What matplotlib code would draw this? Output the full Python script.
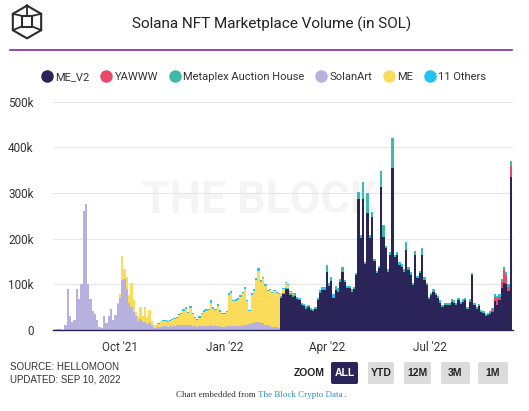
import numpy as np
import matplotlib
matplotlib.use('Agg')
import matplotlib.pyplot as plt
from matplotlib.patches import FancyBboxPatch
from matplotlib.lines import Line2D

plt.rcParams['font.family'] = ['Roboto', 'DejaVu Sans']

# data: 2-day bins from 2021-08-04 to 2022-09-10, values in thousands of SOL
start = np.datetime64('2021-08-04')
n_bins = 202

solanart = [1, 2, 3, 2, 0, 11, 90, 30, 18, 22,
            89, 68, 100, 260, 275, 101, 67, 42, 35, 22,
            6, 4, 30, 15, 30, 46, 22, 33, 58, 70,
            110, 111, 90, 60, 50, 40, 30, 20, 25, 18,
            18, 14, 15, 10, 5, 5, 6, 7, 8, 8,
            7, 8, 9, 9, 10, 11, 10, 11, 12, 10,
            11, 9, 8, 7, 8, 9, 9, 8, 9, 10,
            9, 8, 9, 8, 7, 7, 8, 9, 8, 8,
            9, 8, 9, 10, 11, 12, 14, 15, 16, 17,
            18, 16, 15, 12, 10, 8, 7, 6, 6, 5]

# ME from bin 28 to bin 105
me = [2, 8, 53, 22, 25, 16, 54, 25, 10, 10, 25, 12, 32, 14, 29, 10,
      6, 6, 8, 12, 12, 11, 11, 12, 13, 14,
      16, 21, 24, 30, 33, 27, 37, 26, 19, 14,
      19, 25, 31, 34, 34, 50, 38, 36, 43, 32,
      27, 27, 31, 68, 74, 55, 55, 58, 63, 70,
      79, 51, 28, 62, 70, 92, 111, 90, 98, 85,
      75, 79, 73, 79, 75, 74,
      6, 8, 10, 6, 4, 3]

# 11 Others from bin 46 to bin 201
others = [1, 1, 2, 3, 2, 2, 2, 3, 3, 3, 4, 4, 5, 3, 5,
          3, 2, 3, 3, 4, 4, 3, 3, 5,
          3, 3, 4, 4, 3, 3, 3, 5, 4, 3,
          3, 3, 4, 4, 5, 3, 2, 3, 4, 4,
          6, 4, 4, 3, 3, 3, 4, 3, 3, 3,
          2, 2, 2, 2, 2, 2, 2, 2, 2, 2,
          2, 2, 2, 2, 2, 2, 2, 5, 5, 5,
          5, 5, 5, 5, 5, 5, 2, 2, 2, 2,
          2, 2, 2, 2, 2, 2, 2, 2, 2, 2,
          2, 2, 2, 2, 2, 2, 2, 2, 2, 2,
          2, 2, 2, 2, 2, 2, 2, 2, 2, 2,
          2, 2, 2, 2, 2, 2, 2, 2, 2, 2,
          2, 2, 2, 2, 2, 2, 2, 2, 2, 2,
          2, 2, 2, 2, 2, 2, 2, 2, 2, 2,
          2, 2, 2, 2, 2, 2, 2, 2, 2, 2,
          2, 2]

# Metaplex Auction House from bin 100 to bin 201
metaplex = [3, 3, 3, 3, 3, 3, 3, 3, 3, 3,
            3, 3, 3, 3, 3, 3, 3, 3, 3, 3,
            10, 3, 3, 3, 3, 3, 3, 8, 3, 3,
            3, 3, 3, 3, 13, 3, 35, 3, 41, 3,
            10, 3, 3, 3, 33, 25, 3, 3, 3, 65,
            3, 3, 3, 3, 3, 15, 3, 3, 3, 8,
            3, 3, 12, 3, 3, 3, 3, 3, 3, 3,
            3, 3, 3, 3, 3, 3, 3, 3, 3, 3,
            3, 3, 3, 3, 2, 3, 3, 3, 3, 3,
            3, 3, 3, 3, 3, 3, 3, 3, 3, 3,
            3, 8]

# ME_V2 from bin 100 to bin 201
me_v2 = [71, 79, 90, 89, 77, 73, 75, 67, 65, 55,
         53, 47, 50, 43, 41, 45, 65, 80, 87, 87,
         127, 96, 107, 70, 88, 84, 106, 127, 105, 91,
         91, 84, 90, 120, 287, 202, 287, 145, 257, 202,
         247, 151, 125, 135, 313, 203, 180, 128, 165, 354,
         160, 165, 143, 139, 128, 176, 132, 121, 99, 164,
         114, 125, 165, 110, 99, 67, 76, 84, 76, 70,
         60, 50, 54, 55, 54, 62, 60, 54, 65, 56,
         62, 65, 45, 62, 120, 54, 45, 53, 39, 37,
         30, 32, 35, 40, 63, 55, 65, 91, 104, 101,
         85, 335]

# YAWWW from bin 192 to bin 201
yawww = [2, 3, 10, 14, 8, 15, 28, 20, 10, 25]


def pad(vals, first):
    out = np.zeros(n_bins)
    out[first:first + len(vals)] = vals
    return out * 1000


series = [
    ('ME_V2', pad(me_v2, 100), '#2a2459'),
    ('YAWWW', pad(yawww, 192), '#e8486b'),
    ('Metaplex Auction House', pad(metaplex, 100), '#3dbaa8'),
    ('SolanArt', pad(solanart, 0), '#b7b1e0'),
    ('ME', pad(me, 28), '#fbdb5a'),
    ('11 Others', pad(others, 46), '#22c3ef'),
]

dates = start + np.arange(n_bins) * np.timedelta64(2, 'D')

W, H = 529, 411
fig = plt.figure(figsize=(W / 100, H / 100), dpi=100)
ax = fig.add_axes([53 / W, 81 / H, 460 / W, (330 - 101.7) / H])

bottom = np.zeros(n_bins)
for name, vals, color in series:
    ax.bar(dates, vals, width=np.timedelta64(2, 'D'), bottom=bottom,
           color=color, linewidth=0, zorder=2)
    bottom = bottom + vals

ax.set_ylim(0, 500000)
ax.set_yticks(np.arange(0, 500001, 100000))
ax.set_yticklabels(['0', '100k', '200k', '300k', '400k', '500k'])
ax.set_xlim(start - np.timedelta64(1, 'D'), start + np.timedelta64(404, 'D'))
xt = np.array(['2021-10-01', '2022-01-01', '2022-04-01', '2022-07-01'], dtype='datetime64[D]')
ax.set_xticks(xt)
ax.set_xticklabels(["Oct '21", "Jan '22", "Apr '22", "Jul '22"])
ax.tick_params(axis='both', length=0, labelsize=8.5, colors='#333333')
ax.tick_params(axis='x', pad=8)
ax.tick_params(axis='y', pad=14)
for lab in ax.get_yticklabels():
    lab.set_horizontalalignment('right')
ax.grid(axis='y', color='#e6e6e6', linewidth=0.8, zorder=0)
for s in ['top', 'right', 'left']:
    ax.spines[s].set_visible(False)
ax.spines['bottom'].set_color('#2a2459')
ax.spines['bottom'].set_linewidth(1.0)

# watermark
ax.text(0.45, 0.565, 'THE BLOCK', transform=ax.transAxes, fontsize=32,
        fontweight='bold', color='#f4f4f4', ha='center', va='center', zorder=1)

# header
fig.text(272 / W, 1 - 24 / H, 'Solana NFT Marketplace Volume (in SOL)',
         fontsize=11, color='#222222', ha='center', va='center')
fig.add_artist(Line2D([10 / W, 512 / W], [1 - 50 / H, 1 - 50 / H],
                      color='#7b2d9e', linewidth=1.2, transform=fig.transFigure))

# logo
lax = fig.add_axes([9 / W, 1 - 40 / H, 36 / W, 36 / H])
lax.set_xlim(-1.1, 1.1)
lax.set_ylim(-1.1, 1.1)
lax.axis('off')
ang = np.deg2rad([90, 30, -30, -90, -150, 150, 90])
lax.plot(np.cos(ang), np.sin(ang), color='#2b2b2b', lw=1.5)
sq = 0.33
lax.plot([-sq, sq, sq, -sq, -sq], [-sq + 0.05, -sq + 0.05, sq + 0.05, sq + 0.05, -sq + 0.05],
         color='#2b2b2b', lw=1.5)
for cx, cy, px, py in [(0, 1, 0, sq + 0.05), (np.cos(np.deg2rad(30)), -0.5, sq, -sq + 0.05),
                       (-np.cos(np.deg2rad(30)), -0.5, -sq, -sq + 0.05),
                       (np.cos(np.deg2rad(30)), 0.5, sq, sq + 0.05),
                       (-np.cos(np.deg2rad(30)), 0.5, -sq, sq + 0.05)]:
    lax.plot([cx, px], [cy, py], color='#2b2b2b', lw=1.3)

# legend
handles = [Line2D([], [], marker='o', linestyle='', markersize=9,
                  markerfacecolor=c, markeredgewidth=0) for _, _, c in series]
fig.legend(handles, [s[0] for s in series], loc='center', ncol=6,
           bbox_to_anchor=(263 / W, 1 - 77 / H), frameon=False, fontsize=8,
           handletextpad=0.1, columnspacing=0.85, handlelength=1.3,
           labelcolor='#333333')

# footer
fig.text(10 / W, 1 - 367 / H, 'SOURCE: HELLOMOON', fontsize=7,
         family=['Liberation Sans', 'DejaVu Sans'], color='#333333', va='center')
fig.text(10 / W, 1 - 379 / H, 'UPDATED: SEP 10, 2022', fontsize=7,
         family=['Liberation Sans', 'DejaVu Sans'], color='#333333', va='center')
fig.text(309 / W, 1 - 373 / H, 'ZOOM', fontsize=7.5, fontweight='bold',
         family=['Liberation Sans', 'DejaVu Sans'], color='#222222',
         ha='center', va='center')
buttons = [('ALL', 331, 358, True), ('YTD', 368, 394, False), ('12M', 404, 431, False),
           ('3M', 441, 470, False), ('1M', 478, 508, False)]
for label, x0, x1, active in buttons:
    box = FancyBboxPatch((x0 / W, 1 - 384 / H), (x1 - x0) / W, 22 / H,
                         boxstyle='round,pad=0,rounding_size=0.004',
                         transform=fig.transFigure,
                         facecolor='#2a2459' if active else '#dcdcdc',
                         edgecolor='none')
    fig.add_artist(box)
    fig.text((x0 + x1) / 2 / W, 1 - 373.5 / H, label, fontsize=7.5, fontweight='bold',
             family=['Liberation Sans', 'DejaVu Sans'],
             color='white' if active else '#222222', ha='center', va='center')

serif = ['Liberation Serif', 'DejaVu Serif']
fig.text(258 / W, 1 - 395 / H, 'Chart embedded from ', fontsize=6.5,
         family=serif, color='#333333', ha='right', va='center')
link = fig.text(258 / W, 1 - 395 / H, 'The Block Crypto Data', fontsize=6.5,
                family=serif, color='#2a8fbd', ha='left', va='center')
fig.canvas.draw()
end_x = link.get_window_extent().x1
fig.text((end_x + 0.5) / W, 1 - 395 / H, '.', fontsize=6.5,
         family=serif, color='#333333', ha='left', va='center')

fig.savefig('out.png', dpi=100, facecolor='white')
